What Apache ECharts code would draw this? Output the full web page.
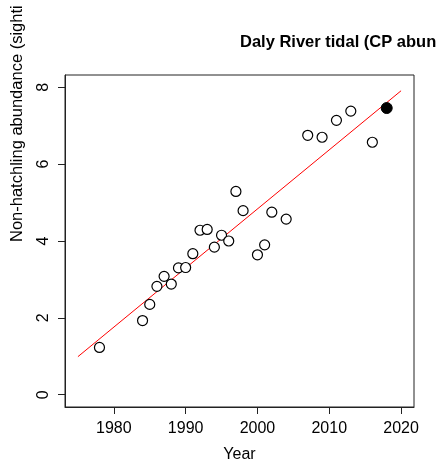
<!DOCTYPE html>
<html>
<head>
<meta charset="utf-8">
<script src="https://cdn.jsdelivr.net/npm/echarts@6/dist/echarts.min.js"></script>
<style>
  html, body { margin: 0; padding: 0; background: #fff; }
  #chart { width: 439px; height: 468px; }
</style>
</head>
<body>
<div id="chart"></div>
<script>
// Survey years and non-hatchling abundance (sightings)
const years = [1978, 1984, 1985, 1986, 1987, 1988, 1989, 1990, 1991, 1992, 1993,
               1994, 1995, 1996, 1997, 1998, 2000, 2001, 2002, 2004, 2007, 2009,
               2011, 2013, 2016];
const abundance = [1.23, 1.93, 2.35, 2.82, 3.08, 2.88, 3.30, 3.31, 3.67, 4.28, 4.30,
                   3.84, 4.15, 4.00, 5.29, 4.79, 3.64, 3.90, 4.75, 4.57, 6.75, 6.70,
                   7.14, 7.38, 6.57];
// Most recent survey, highlighted as a solid dot
const latestYear = [2018];
const latestAbundance = [7.46];
// Fitted linear trend, end points
const fitYears = [1975, 2020];
const fitValues = [0.99, 7.91];
// Axis ticks
const xTicks = [1980, 1990, 2000, 2010, 2020];
const yTicks = [0, 2, 4, 6, 8];

const FONT = '"Liberation Sans", Arial, sans-serif';

const chart = echarts.init(document.getElementById('chart'), null, { renderer: 'canvas' });

chart.setOption({
  animation: false,
  backgroundColor: '#ffffff',
  grid: {
    left: 65, right: 25, top: 75, bottom: 59,
    show: true, borderColor: '#222', borderWidth: 1, backgroundColor: 'transparent'
  },
  xAxis: {
    type: 'value',
    min: 1973.2, max: 2021.8,
    name: 'Year',
    nameLocation: 'middle',
    nameGap: 40,
    nameTextStyle: { fontFamily: FONT, fontSize: 16, color: '#000' },
    axisLine: { show: true, onZero: false, lineStyle: { color: '#222', width: 1 } },
    axisTick: { show: true, length: 7, lineStyle: { color: '#222' }, customValues: xTicks },
    axisLabel: {
      fontFamily: FONT, fontSize: 16, color: '#000', margin: 14, customValues: xTicks,
      formatter: (v) => String(Math.round(v))
    },
    splitLine: { show: false }
  },
  yAxis: {
    type: 'value',
    min: -0.32, max: 8.32,
    axisLine: { show: true, onZero: false, lineStyle: { color: '#222', width: 1 } },
    axisTick: { show: true, length: 7, lineStyle: { color: '#222' }, customValues: yTicks },
    axisLabel: {
      fontFamily: FONT, fontSize: 16, color: '#000', margin: 13, rotate: 90, customValues: yTicks,
      formatter: (v) => String(Math.round(v))
    },
    splitLine: { show: false }
  },
  graphic: [
    {
      type: 'text',
      left: 240, top: 34,
      style: {
        text: 'Daly River tidal (CP abun',
        fontFamily: FONT, fontSize: 16.5, fontWeight: 'bold', fill: '#000'
      }
    },
    {
      type: 'text',
      x: 17, y: 242,
      rotation: Math.PI / 2,
      style: {
        text: 'Non-hatchling abundance (sighti',
        fontFamily: FONT, fontSize: 16.5, fill: '#000',
        align: 'left', verticalAlign: 'middle'
      }
    }
  ],
  series: [
    {
      type: 'line',
      data: fitYears.map((y, i) => [y, fitValues[i]]),
      showSymbol: false,
      lineStyle: { color: '#ff0000', width: 1 },
      silent: true,
      z: 1
    },
    {
      type: 'scatter',
      data: years.map((y, i) => [y, abundance[i]]),
      symbol: 'circle',
      symbolSize: 10,
      itemStyle: { color: '#ffffff', borderColor: '#000', borderWidth: 1.2, opacity: 1 },
      z: 2
    },
    {
      type: 'scatter',
      data: latestYear.map((y, i) => [y, latestAbundance[i]]),
      symbol: 'circle',
      symbolSize: 11,
      itemStyle: { color: '#000', borderColor: '#000', borderWidth: 1, opacity: 1 },
      z: 3
    }
  ]
});
</script>
</body>
</html>
